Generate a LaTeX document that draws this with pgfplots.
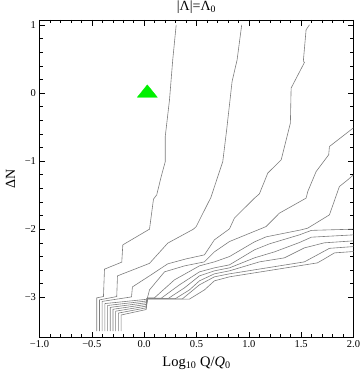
\documentclass[border=0pt]{standalone}
\usepackage{fontspec}
\setmainfont{Liberation Serif}
\usepackage{pgfplots}
\pgfplotsset{compat=1.18}
\definecolor{cgray}{RGB}{125,125,125}
\definecolor{tri}{RGB}{0,240,0}
\tikzset{cl/.style={draw=cgray, line width=0.6pt, mark=none}}
\begin{document}
\begin{tikzpicture}
\begin{axis}[
  scale only axis, width=314pt, height=317.3pt,
  xmin=-1, xmax=2, ymin=-3.59, ymax=1.075,
  xtick={-1,-0.5,0,0.5,1,1.5,2},
  xticklabels={−1.0,−0.5,0.0,0.5,1.0,1.5,2.0},
  ytick={-3,-2,-1,0,1}, yticklabels={−3,−2,−1,0,1},
  minor x tick num=4, minor y tick num=4,
  major tick length=5.7pt, minor tick length=3.3pt,
  tick style={black, line width=0.5pt},
  axis line style={line width=0.6pt},
  tick label style={font=\fontsize{10.5}{12}\selectfont},
  title={|Λ|=Λ\textsubscript{0}},
  title style={at={(axis description cs:0.5,1)}, anchor=center, yshift=6.8pt, font=\fontsize{14}{16}\selectfont},
  xlabel={Log\textsubscript{10} Q/\textit{Q}\textsubscript{0}},
  xlabel style={at={(axis description cs:0.5,0)}, anchor=center, yshift=-26pt, font=\fontsize{14.5}{16}\selectfont},
  ylabel={ΔN},
  ylabel style={at={(axis description cs:0,0.5)}, anchor=center, yshift=29pt, font=\fontsize{14}{16}\selectfont},
]
% contours from the top edge
\addplot[cl] coordinates {(0.306,1.004)(0.273,0.490)(0.242,-0.099)(0.201,-0.643)(0.201,-1.010)(0.162,-1.231)(0.120,-1.496)(0.089,-1.559)(0.051,-2.000)(-0.204,-2.231)(-0.214,-2.485)(-0.379,-2.588)(-0.389,-2.991)(-0.453,-3.010)(-0.453,-3.5)};
\addplot[cl] coordinates {(0.932,1.004)(0.888,0.490)(0.840,0.171)(0.789,-0.529)(0.751,-1.006)(0.693,-1.275)(0.638,-1.532)(0.497,-1.962)(0.471,-2.000)(0.225,-2.206)(0.051,-2.503)(-0.255,-2.687)(-0.262,-2.991)(-0.427,-3.040)(-0.427,-3.5)};
\addplot[cl] coordinates {(1.579,1.004)(1.547,0.931)(1.521,0.475)(1.531,0.450)(1.404,0.074)(1.397,-0.441)(1.309,-0.981)(1.181,-1.176)(1.101,-1.481)(1.054,-1.544)(0.862,-1.838)(0.815,-1.996)(0.671,-2.157)(0.576,-2.378)(0.401,-2.437)(0.225,-2.510)(0.051,-2.687)(-0.112,-2.849)(-0.121,-2.996)(-0.401,-3.062)(-0.401,-3.5)};
% contours from the right edge
\addplot[cl] coordinates {(2.0,-0.510)(1.770,-0.785)(1.763,-0.907)(1.643,-1.153)(1.563,-1.447)(1.547,-1.544)(1.292,-1.765)(1.165,-1.962)(0.815,-2.182)(0.671,-2.334)(0.576,-2.481)(0.385,-2.540)(0.194,-2.628)(0.051,-2.893)(0.032,-3.006)(0.019,-3.032)(-0.375,-3.094)(-0.375,-3.5)};
\addplot[cl] coordinates {(2.0,-1.201)(1.945,-1.275)(1.865,-1.374)(1.770,-1.790)(1.563,-1.985)(1.500,-2.010)(1.165,-2.113)(1.054,-2.187)(0.815,-2.403)(0.671,-2.481)(0.528,-2.540)(0.289,-2.746)(0.098,-3.010)(0.032,-3.010)(0.019,-3.057)(-0.349,-3.122)(-0.349,-3.5)};
\addplot[cl] coordinates {(2.0,-2.0)(1.598,-2.018)(1.483,-2.084)(1.197,-2.216)(1.054,-2.304)(0.815,-2.525)(0.671,-2.569)(0.528,-2.628)(0.337,-2.819)(0.165,-3.013)(0.032,-3.013)(0.019,-3.082)(-0.324,-3.150)(-0.324,-3.5)};
\addplot[cl] coordinates {(2.0,-2.084)(1.598,-2.118)(1.483,-2.197)(1.245,-2.334)(1.054,-2.422)(0.815,-2.569)(0.671,-2.613)(0.528,-2.687)(0.385,-2.863)(0.232,-3.017)(0.032,-3.017)(0.019,-3.107)(-0.298,-3.178)(-0.298,-3.5)};
\addplot[cl] coordinates {(2.0,-2.172)(1.722,-2.201)(1.531,-2.275)(1.340,-2.422)(1.101,-2.481)(0.815,-2.613)(0.671,-2.657)(0.528,-2.760)(0.433,-2.893)(0.299,-3.021)(0.032,-3.021)(0.019,-3.132)(-0.272,-3.206)(-0.272,-3.5)};
\addplot[cl] coordinates {(2.0,-2.256)(1.770,-2.282)(1.655,-2.378)(1.531,-2.481)(0.815,-2.657)(0.671,-2.701)(0.528,-2.819)(0.366,-3.024)(0.032,-3.024)(0.019,-3.157)(-0.246,-3.234)(-0.246,-3.5)};
\addplot[cl] coordinates {(2.0,-2.329)(1.818,-2.349)(1.722,-2.437)(1.655,-2.496)(0.815,-2.701)(0.671,-2.760)(0.576,-2.893)(0.433,-3.028)(0.032,-3.028)(0.019,-3.182)(-0.220,-3.262)(-0.220,-3.5)};
% marker
\addplot[only marks, mark=triangle*, mark size=11.5pt, color=tri, mark options={fill=tri, draw=none, yscale=0.72}] coordinates {(0.03,0)};
\end{axis}
\pgfresetboundingbox
\path[use as bounding box] ([shift={(-39.5pt,-40.7pt)}]current axis.south west) rectangle ([shift={(6pt,20pt)}]current axis.north east);
\end{tikzpicture}
\end{document}
